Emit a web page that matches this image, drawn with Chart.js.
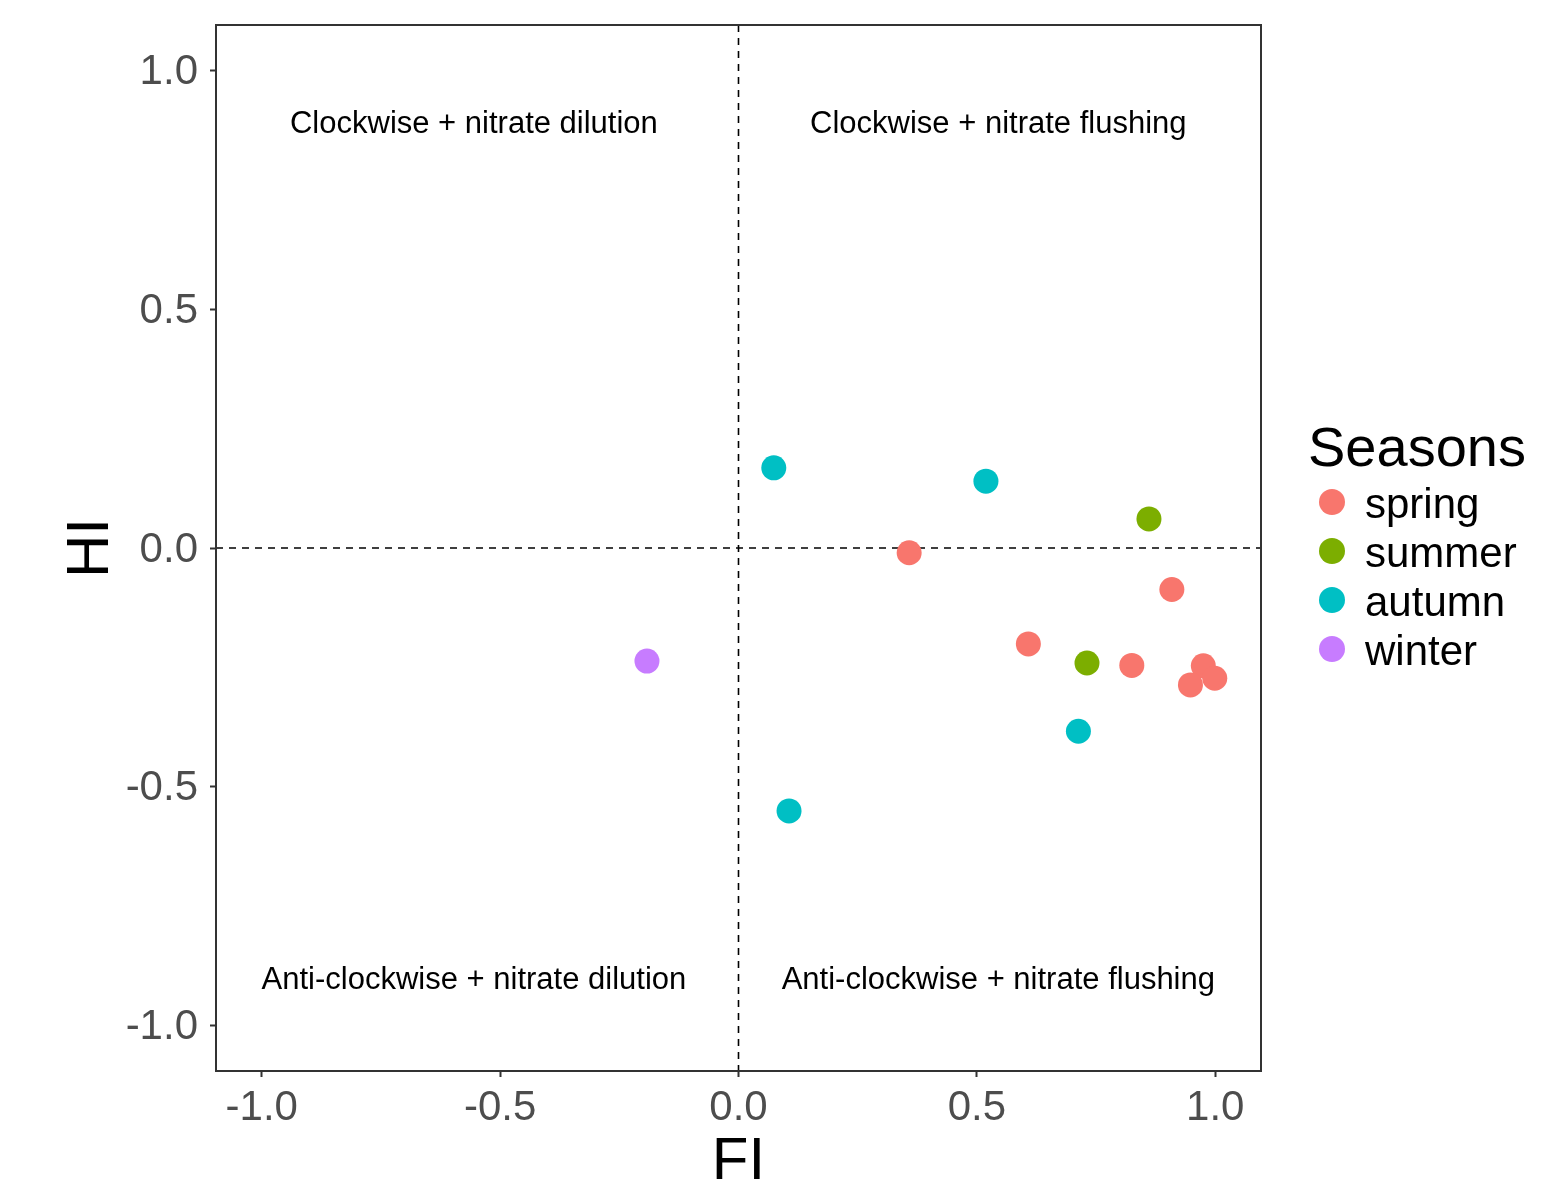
<!DOCTYPE html>
<html lang="en">
<head>
<meta charset="UTF-8" />
<title>FI vs HI by season</title>
<script src="https://cdn.jsdelivr.net/npm/chart.js"></script>
<style>
  html, body { margin: 0; padding: 0; background: #fff; }
  #wrap { width: 1561px; height: 1183px; }
</style>
</head>
<body>
<div id="wrap"><canvas id="chart"></canvas></div>
<script>
// season groups, ggplot default hue palette
const seasons = ["spring", "summer", "autumn", "winter"];
const seasonColors = ["#F8766D", "#7CAE00", "#00BFC4", "#C77CFF"];

// FI (x) and HI (y) per season
const springFI = [0.358, 0.909, 0.608, 0.825, 0.975, 0.948, 0.999];
const springHI = [-0.010, -0.087, -0.201, -0.246, -0.247, -0.287, -0.273];
const summerFI = [0.861, 0.731];
const summerHI = [0.061, -0.241];
const autumnFI = [0.074, 0.519, 0.713, 0.106];
const autumnHI = [0.168, 0.140, -0.384, -0.551];
const winterFI = [-0.192];
const winterHI = [-0.237];

const tickValues = [-1, -0.5, 0, 0.5, 1];
const tickLabels = ["-1.0", "-0.5", "0.0", "0.5", "1.0"];
const axisLimit = 1.096;

// quadrant notes
const noteText = [
  "Clockwise + nitrate dilution",
  "Clockwise + nitrate flushing",
  "Anti-clockwise + nitrate dilution",
  "Anti-clockwise + nitrate flushing"
];
const noteX = [-0.555, 0.545, -0.555, 0.545];
const noteY = [0.887, 0.887, -0.907, -0.907];

const FONT = "'Liberation Sans', Arial, sans-serif";

const seriesFI = [springFI, summerFI, autumnFI, winterFI];
const seriesHI = [springHI, summerHI, autumnHI, winterHI];

const datasets = seasons.map((name, i) => ({
  label: name,
  data: seriesFI[i].map((x, j) => ({ x: x, y: seriesHI[i][j] })),
  backgroundColor: seasonColors[i],
  borderWidth: 0,
  pointRadius: 12.5,
  pointHoverRadius: 12.5
}));

const quadrantPlugin = {
  id: "quadrants",
  beforeDatasetsDraw(chart) {
    const { ctx, chartArea, scales } = chart;
    const x0 = scales.x.getPixelForValue(0);
    const y0 = scales.y.getPixelForValue(0);
    ctx.save();
    ctx.strokeStyle = "#000";
    ctx.lineWidth = 1.6;
    ctx.setLineDash([7, 6]);
    ctx.beginPath();
    ctx.moveTo(x0, chartArea.top);
    ctx.lineTo(x0, chartArea.bottom);
    ctx.moveTo(chartArea.left, y0);
    ctx.lineTo(chartArea.right, y0);
    ctx.stroke();
    ctx.setLineDash([]);

    ctx.fillStyle = "#000";
    ctx.font = "31px " + FONT;
    ctx.textAlign = "center";
    ctx.textBaseline = "middle";
    noteText.forEach((t, i) => {
      ctx.fillText(t, scales.x.getPixelForValue(noteX[i]), scales.y.getPixelForValue(noteY[i]));
    });
    ctx.restore();
  },
  afterDraw(chart) {
    const { ctx, chartArea } = chart;
    ctx.save();
    // panel border
    ctx.strokeStyle = "#333";
    ctx.lineWidth = 2;
    ctx.strokeRect(chartArea.left, chartArea.top,
      chartArea.right - chartArea.left, chartArea.bottom - chartArea.top);

    // legend
    ctx.fillStyle = "#000";
    ctx.textAlign = "left";
    ctx.textBaseline = "alphabetic";
    ctx.font = "56px " + FONT;
    ctx.fillText("Seasons", 1308, 466);
    ctx.font = "42px " + FONT;
    seasons.forEach((name, i) => {
      const cy = 502 + i * 49;
      ctx.fillStyle = seasonColors[i];
      ctx.beginPath();
      ctx.arc(1332, cy, 13, 0, Math.PI * 2);
      ctx.fill();
      ctx.fillStyle = "#000";
      ctx.fillText(name, 1365, cy + 16);
    });
    ctx.restore();
  }
};

const axisCommon = {
  type: "linear",
  min: -axisLimit,
  max: axisLimit,
  afterBuildTicks: (s) => { s.ticks = tickValues.map(v => ({ value: v })); },
  ticks: {
    callback: (v, i) => tickLabels[i],
    color: "#4D4D4D",
    font: { family: FONT, size: 42 },
    autoSkip: false,
    maxRotation: 0
  },
  grid: {
    display: true,
    drawOnChartArea: false,
    drawTicks: true,
    tickLength: 6,
    tickWidth: 2,
    tickColor: "#333"
  },
  border: { display: true, color: "#333", width: 2 }
};

new Chart(document.getElementById("chart"), {
  type: "scatter",
  data: { datasets: datasets },
  options: {
    responsive: true,
    maintainAspectRatio: false,
    animation: false,
    layout: { padding: { top: 25, right: 300, left: 0, bottom: 0 } },
    plugins: {
      legend: { display: false },
      tooltip: { enabled: false }
    },
    scales: {
      x: {
        ...axisCommon,
        afterFit: (s) => { s.height = 112; s.paddingLeft = 0; s.paddingRight = 0; },
        ticks: { ...axisCommon.ticks, padding: 6 },
        title: {
          display: true, text: "FI", color: "#000",
          font: { family: FONT, size: 60, lineHeight: 0.7 },
          padding: 0
        }
      },
      y: {
        ...axisCommon,
        afterFit: (s) => { s.width = 216; s.paddingTop = 0; s.paddingBottom = 0; },
        ticks: { ...axisCommon.ticks, padding: 12, labelOffset: 2 },
        title: {
          display: true, text: "HI", color: "#000",
          font: { family: FONT, size: 60, lineHeight: 1 },
          padding: { top: 61, bottom: 0 }
        }
      }
    }
  },
  plugins: [quadrantPlugin]
});
</script>
</body>
</html>
